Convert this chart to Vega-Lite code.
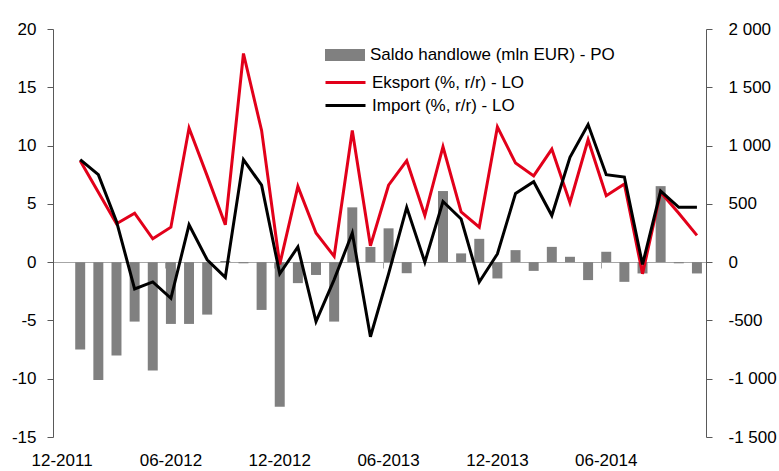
{
  "$schema": "https://vega.github.io/schema/vega-lite/v6.json",
  "width": 653,
  "height": 408,
  "autosize": {"type": "none"},
  "padding": {"left": 53, "top": 29, "right": 73, "bottom": 34},
  "background": "white",
  "config": {
    "view": {"stroke": null},
    "font": "Liberation Sans",
    "axis": {"labelFont": "Liberation Sans", "labelFontSize": 17, "labelColor": "#000000", "domainColor": "#595959", "tickColor": "#595959", "grid": false, "title": null},
    "legend": {"labelFont": "Liberation Sans", "labelFontSize": 17, "labelColor": "#000000", "padding": 0, "labelOffset": 15, "rowPadding": 3, "title": null, "labelLimit": 400}
  },
  "data": {
    "values": [
      {"month": "01-2012", "saldo": -750, "eksport": 8.7, "import": 8.8},
      {"month": "02-2012", "saldo": -1010, "eksport": 6.0, "import": 7.5},
      {"month": "03-2012", "saldo": -800, "eksport": 3.3, "import": 3.5},
      {"month": "04-2012", "saldo": -510, "eksport": 4.2, "import": -2.3},
      {"month": "05-2012", "saldo": -930, "eksport": 2.0, "import": -1.7},
      {"month": "06-2012", "saldo": -530, "eksport": 3.0, "import": -3.1},
      {"month": "07-2012", "saldo": -530, "eksport": 11.5, "import": 3.2},
      {"month": "08-2012", "saldo": -450, "eksport": 7.4, "import": 0.2},
      {"month": "09-2012", "saldo": 10, "eksport": 3.2, "import": -1.3},
      {"month": "10-2012", "saldo": -10, "eksport": 17.9, "import": 8.8},
      {"month": "11-2012", "saldo": -410, "eksport": 11.3, "import": 6.6},
      {"month": "12-2012", "saldo": -1240, "eksport": -0.2, "import": -1.0},
      {"month": "01-2013", "saldo": -180, "eksport": 6.5, "import": 1.3},
      {"month": "02-2013", "saldo": -110, "eksport": 2.5, "import": -5.1},
      {"month": "03-2013", "saldo": -510, "eksport": 0.5, "import": -1.5},
      {"month": "04-2013", "saldo": 470, "eksport": 11.3, "import": 2.5},
      {"month": "05-2013", "saldo": 130, "eksport": 1.4, "import": -6.4},
      {"month": "06-2013", "saldo": 290, "eksport": 6.6, "import": -1.0},
      {"month": "07-2013", "saldo": -95, "eksport": 8.7, "import": 4.7},
      {"month": "08-2013", "saldo": 0, "eksport": 4.0, "import": 0.0},
      {"month": "09-2013", "saldo": 610, "eksport": 9.9, "import": 5.2},
      {"month": "10-2013", "saldo": 75, "eksport": 4.3, "import": 3.7},
      {"month": "11-2013", "saldo": 200, "eksport": 3.0, "import": -1.7},
      {"month": "12-2013", "saldo": -140, "eksport": 11.6, "import": 0.7},
      {"month": "01-2014", "saldo": 103, "eksport": 8.5, "import": 5.9},
      {"month": "02-2014", "saldo": -75, "eksport": 7.4, "import": 6.9},
      {"month": "03-2014", "saldo": 131, "eksport": 9.7, "import": 4.0},
      {"month": "04-2014", "saldo": 46, "eksport": 5.1, "import": 9.0},
      {"month": "05-2014", "saldo": -154, "eksport": 10.5, "import": 11.8},
      {"month": "06-2014", "saldo": 89, "eksport": 5.7, "import": 7.5},
      {"month": "07-2014", "saldo": -169, "eksport": 6.7, "import": 7.3},
      {"month": "08-2014", "saldo": -97, "eksport": -1.0, "import": -0.2},
      {"month": "09-2014", "saldo": 652, "eksport": 6.0, "import": 6.1},
      {"month": "10-2014", "saldo": -10, "eksport": 4.2, "import": 4.7},
      {"month": "11-2014", "saldo": -97, "eksport": 2.3, "import": 4.7}
    ]
  },
  "layer": [
    {
      "mark": {"type": "bar"},
      "encoding": {
        "x": {
          "field": "month", "type": "ordinal", "sort": null,
          "scale": {
            "domain": ["12-2011","01-2012","02-2012","03-2012","04-2012","05-2012","06-2012","07-2012","08-2012","09-2012","10-2012","11-2012","12-2012","01-2013","02-2013","03-2013","04-2013","05-2013","06-2013","07-2013","08-2013","09-2013","10-2013","11-2013","12-2013","01-2014","02-2014","03-2014","04-2014","05-2014","06-2014","07-2014","08-2014","09-2014","10-2014","11-2014"],
            "paddingInner": 0.45, "paddingOuter": 0.225
          },
          "axis": {"orient": "bottom", "values": ["12-2011","06-2012","12-2012","06-2013","12-2013","06-2014"], "domain": false, "ticks": false, "labelPadding": 15, "labelAngle": 0}
        },
        "y": {
          "field": "saldo", "type": "quantitative",
          "scale": {"domain": [-1500, 2000], "nice": false},
          "axis": {"orient": "right", "values": [-1500,-1000,-500,0,500,1000,1500,2000], "labelExpr": "replace(replace(format(datum.value, ','), ',', ' '), '\u2212', '-')", "tickSize": 6, "labelPadding": 16}
        },
        "fill": {
          "datum": "Saldo handlowe (mln EUR) - PO", "type": "nominal",
          "scale": {"range": ["#808080"]},
          "legend": {"orient": "none", "legendX": 282, "legendY": 16, "symbolType": "M-2,-0.6H2V0.6H-2Z", "symbolSize": 400, "symbolStrokeWidth": 0}
        }
      }
    },
    {
      "mark": {"type": "line", "strokeWidth": 3},
      "encoding": {
        "x": {
          "field": "month", "type": "ordinal", "sort": null,
          "axis": {"orient": "bottom", "offset": -175, "labels": false, "domainColor": "#a6a6a6", "tickColor": "#a6a6a6", "tickSize": 6, "bandPosition": 0, "values": ["06-2012","12-2012","06-2013","12-2013","06-2014"]}
        },
        "y": {
          "field": "eksport", "type": "quantitative",
          "scale": {"domain": [-15, 20], "nice": false},
          "axis": {"orient": "left", "values": [-15,-10,-5,0,5,10,15,20], "labelExpr": "replace(format(datum.value, 'd'), '\u2212', '-')", "tickSize": 6, "labelPadding": 11}
        },
        "stroke": {
          "datum": "Eksport (%, r/r) - LO", "type": "nominal",
          "scale": {"domain": ["Eksport (%, r/r) - LO", "Import (%, r/r) - LO"], "range": ["#E2001A", "#000000"]},
          "legend": {"orient": "none", "legendX": 281, "legendY": 42, "symbolType": "M-2,0H2", "symbolSize": 400, "symbolStrokeWidth": 3}
        }
      }
    },
    {
      "mark": {"type": "line", "strokeWidth": 3},
      "encoding": {
        "x": {"field": "month", "type": "ordinal", "sort": null, "axis": null},
        "y": {
          "field": "import", "type": "quantitative",
          "scale": {"domain": [-15, 20], "nice": false},
          "axis": null
        },
        "stroke": {
          "datum": "Import (%, r/r) - LO", "type": "nominal",
          "scale": {"domain": ["Eksport (%, r/r) - LO", "Import (%, r/r) - LO"], "range": ["#E2001A", "#000000"]}
        }
      }
    }
  ],
  "resolve": {"scale": {"y": "independent"}, "axis": {"y": "independent", "x": "independent"}}
}
